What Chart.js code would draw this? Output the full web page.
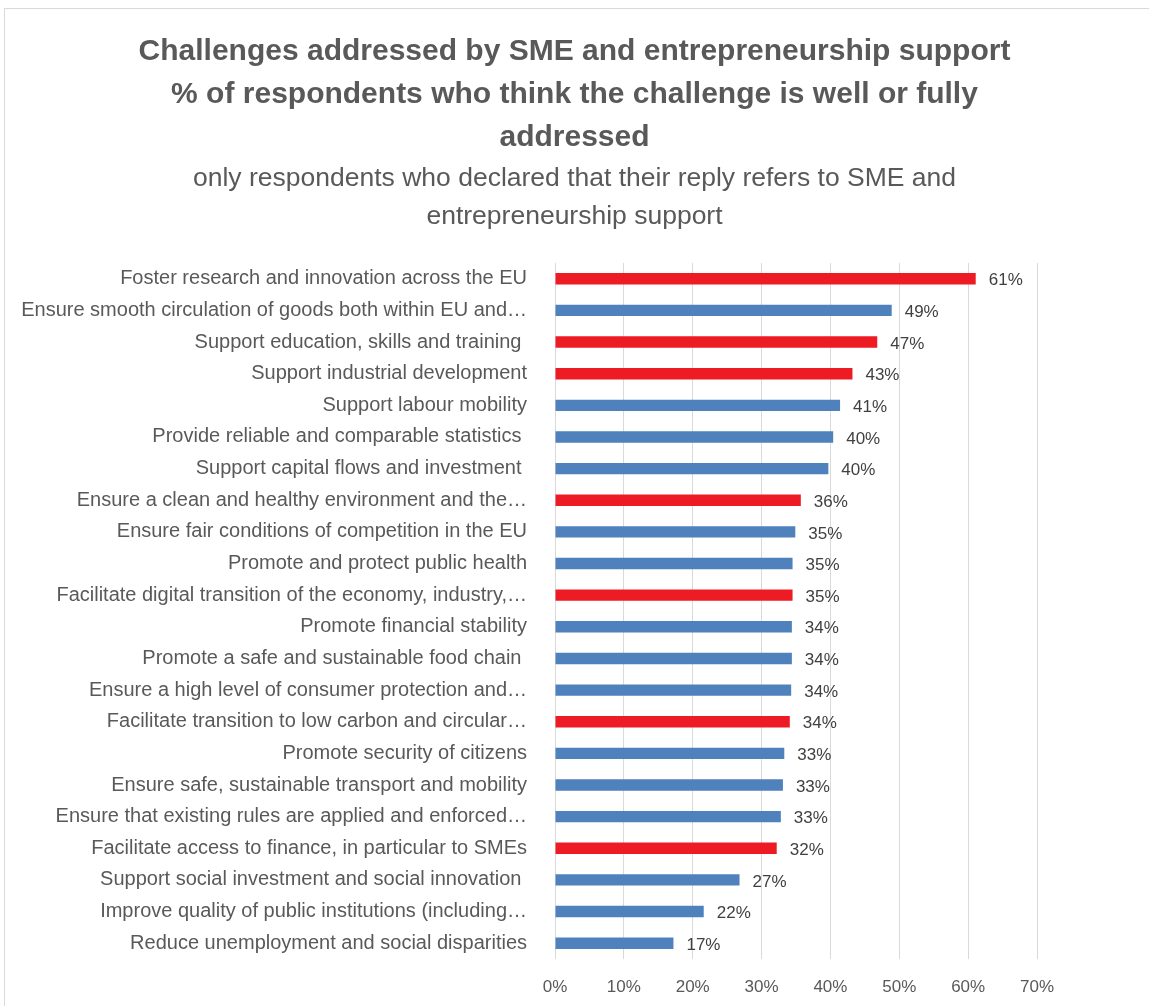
<!DOCTYPE html>
<html lang="en">
  <head>
    <meta charset="UTF-8" />
    <title>Challenges addressed by SME and entrepreneurship support</title>
    <script src="https://cdn.jsdelivr.net/npm/chart.js"></script>
    <style>
      body {
        margin: 0;
        background: #ffffff;
      }
      #frame {
        position: absolute;
        left: 4px;
        top: 8px;
        width: 1160px;
        height: 1010px;
        border: 1px solid #d9d9d9;
        pointer-events: none;
      }
      #barChart {
        position: absolute;
        left: 0;
        top: 0;
      }
    </style>
  </head>
  <body>
    <canvas id="barChart" width="1149" height="1006"></canvas>
    <div id="frame"></div>

    <script>
      const categories = [
        "Foster research and innovation across the EU",
        "Ensure smooth circulation of goods both within EU and\u2026",
        "Support education, skills and training ",
        "Support industrial development",
        "Support labour mobility",
        "Provide reliable and comparable statistics ",
        "Support capital flows and investment ",
        "Ensure a clean and healthy environment and the\u2026",
        "Ensure fair conditions of competition in the EU",
        "Promote and protect public health",
        "Facilitate digital transition of the economy, industry,\u2026",
        "Promote financial stability",
        "Promote a safe and sustainable food chain ",
        "Ensure a high level of consumer protection and\u2026",
        "Facilitate transition to low carbon and circular\u2026",
        "Promote security of citizens",
        "Ensure safe, sustainable transport and mobility",
        "Ensure that existing rules are applied and enforced\u2026",
        "Facilitate access to finance, in particular to SMEs",
        "Support social investment and social innovation ",
        "Improve quality of public institutions (including\u2026",
        "Reduce unemployment and social disparities",
      ];

      // share of respondents (fraction)
      const shares = [
        0.611, 0.489, 0.468, 0.432, 0.414, 0.404, 0.397, 0.357, 0.349, 0.345,
        0.345, 0.344, 0.344, 0.343, 0.341, 0.333, 0.331, 0.328, 0.322, 0.268,
        0.216, 0.172,
      ];

      // challenges highlighted in red
      const highlighted = [0, 2, 3, 7, 10, 14, 18];

      const xTicks = [0, 0.1, 0.2, 0.3, 0.4, 0.5, 0.6, 0.7];

      const titleLines = [
        "Challenges addressed by SME and entrepreneurship support",
        "% of respondents who think the challenge is well or fully",
        "addressed",
      ];
      const subtitleLines = [
        "only respondents who declared that their reply refers to SME and",
        "entrepreneurship support",
      ];

      const BLUE = "#4f81bd";
      const RED = "#ed1c24";
      const TEXT = "#595959";
      const FONT = "'Liberation Sans', Arial, sans-serif";

      const barColors = categories.map((c, i) =>
        highlighted.includes(i) ? RED : BLUE
      );

      // value labels at the end of each bar
      const valueLabels = {
        id: "valueLabels",
        afterDatasetsDraw(chart) {
          const ctx = chart.ctx;
          const meta = chart.getDatasetMeta(0);
          ctx.save();
          ctx.font = "17px " + FONT;
          ctx.fillStyle = "#404040";
          ctx.textAlign = "left";
          ctx.textBaseline = "middle";
          meta.data.forEach((bar, i) => {
            const txt = Math.round(shares[i] * 100) + "%";
            ctx.fillText(txt, bar.x + 13, bar.y + 2);
          });
          ctx.restore();
        },
      };

      const ctx = document.getElementById("barChart").getContext("2d");
      new Chart(ctx, {
        type: "bar",
        data: {
          labels: categories,
          datasets: [
            {
              data: shares,
              backgroundColor: barColors,
              barPercentage: 0.36,
              categoryPercentage: 1,
            },
          ],
        },
        options: {
          indexAxis: "y",
          responsive: false,
          animation: false,
          layout: {
            padding: 0,
          },
          plugins: {
            legend: { display: false },
            tooltip: { enabled: false },
            title: {
              display: true,
              text: titleLines,
              color: TEXT,
              font: { family: FONT, size: 30, weight: "bold", lineHeight: 1.433 },
              padding: { top: 30, bottom: 1 },
            },
            subtitle: {
              display: true,
              text: subtitleLines,
              color: TEXT,
              font: { family: FONT, size: 26.5, weight: "normal", lineHeight: 1.434 },
              padding: { top: 0, bottom: 27 },
            },
          },
          scales: {
            x: {
              min: 0,
              max: 0.7,
              afterBuildTicks(axis) {
                axis.ticks = xTicks.map((v) => ({ value: v }));
              },
              afterFit(axis) {
                axis.height = 47;
              },
              grid: {
                color: "#d9d9d9",
                lineWidth: 1,
                drawTicks: false,
              },
              border: { display: false },
              ticks: {
                color: TEXT,
                padding: 18,
                font: { family: FONT, size: 17 },
                callback: (v) => Math.round(v * 100) + "%",
              },
            },
            y: {
              afterFit(axis) {
                axis.width = 555;
              },
              grid: { display: false },
              border: { display: false },
              ticks: {
                color: TEXT,
                padding: 20,
                autoSkip: false,
                font: { family: FONT, size: 20 },
              },
            },
            // empty right-hand margin so the titles stay centred on the page
            yRight: {
              type: "category",
              position: "right",
              afterFit(axis) {
                axis.width = 112;
              },
              grid: { display: false },
              border: { display: false },
              ticks: { display: false },
            },
          },
        },
        plugins: [valueLabels],
      });
    </script>
  </body>
</html>
